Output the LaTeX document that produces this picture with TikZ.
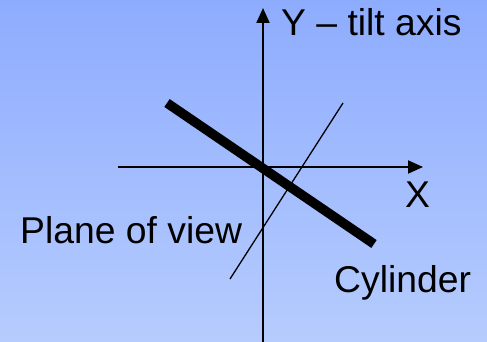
\documentclass[tikz,border=0pt]{standalone}
\usepackage{fontspec}
\setmainfont{Liberation Sans}
\usetikzlibrary{arrows.meta}
\definecolor{bgtop}{RGB}{142,172,254}
\definecolor{bgbot}{RGB}{182,204,254}
\tikzset{
  axisline/.style={line width=2pt,-{Triangle[length=15pt,width=13pt]}},
  cylline/.style={line width=9.5pt,line cap=butt},
  planeline/.style={line width=1.3pt},
  lbl/.style={anchor=base west,inner sep=0pt,font=\fontsize{37.3}{40}\selectfont}
}
\begin{document}
\begin{tikzpicture}[x=1pt,y=-1pt]
\shade[top color=bgtop,bottom color=bgbot] (0,0) rectangle (487,342);
\useasboundingbox (0,0) rectangle (487,342);
\coordinate (ybot) at (263,342);
\coordinate (ytop) at (263,8);
\coordinate (xl) at (118,167);
\coordinate (xr) at (423,167);
\coordinate (ca) at (167,103);
\coordinate (cb) at (374,244);
\coordinate (pa) at (343,103);
\coordinate (pb) at (230,279);
\draw[axisline] (ybot) -- (ytop);
\draw[axisline] (xl) -- (xr);
\draw[planeline] (pa) -- (pb);
\draw[cylline] (ca) -- (cb);
\node[lbl] (ylab) at (281,36) {Y -- tilt axis};
\node[lbl] (xlab) at (405,207) {X};
\node[lbl] (plab) at (20,243) {Plane of view};
\node[lbl] (clab) at (334,292) {Cylinder};
\end{tikzpicture}
\end{document}
